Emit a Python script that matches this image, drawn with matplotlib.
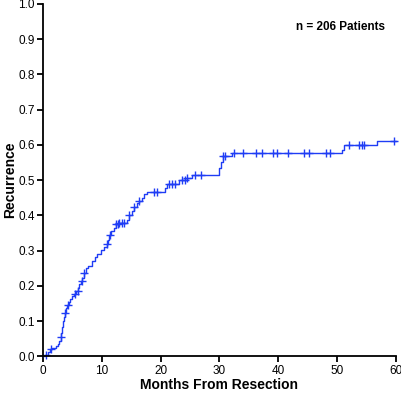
import numpy as np
import matplotlib
matplotlib.use("Agg")
import matplotlib.pyplot as plt

plt.rcParams['font.family'] = ['Liberation Sans', 'DejaVu Sans']

# step curve: month of each step and recurrence value after it
event_months = [0.0, 0.3, 0.8, 1.2, 1.6, 2.2, 2.6, 2.8, 3.0, 3.1, 3.25, 3.4, 3.55,
                3.7, 3.9, 4.1, 4.35, 4.6, 4.9, 5.2, 5.6, 6.0, 6.2, 6.4, 6.7, 7.0,
                7.3, 7.7, 8.4, 8.8, 9.2, 9.8, 10.3, 10.8, 11.0, 11.3, 11.6, 12.0,
                12.4, 12.8, 14.2, 14.7, 15.1, 15.4, 15.9, 16.3, 16.8, 17.2, 17.6,
                20.7, 21.1, 23.1, 24.4, 25.3, 30.0, 30.3, 30.6, 32.2, 50.8, 51.2,
                56.8, 60.0]
recurrence = [0.0, 0.005, 0.012, 0.02, 0.025, 0.03, 0.036, 0.045, 0.055, 0.068,
              0.085, 0.1, 0.113, 0.123, 0.138, 0.146, 0.155, 0.163, 0.172, 0.178,
              0.186, 0.195, 0.205, 0.214, 0.222, 0.238, 0.25, 0.257, 0.27, 0.283,
              0.292, 0.302, 0.31, 0.32, 0.33, 0.345, 0.355, 0.365, 0.375, 0.38,
              0.388, 0.4, 0.412, 0.424, 0.435, 0.442, 0.45, 0.46, 0.467, 0.478,
              0.488, 0.5, 0.506, 0.515, 0.536, 0.552, 0.569, 0.576, 0.586, 0.599,
              0.611, 0.611]

censor_months = [0.5, 1.4, 3.0, 3.7, 4.3, 5.5, 5.9, 6.6, 7.0, 10.9, 11.4, 12.4,
                 12.7, 13.0, 13.4, 13.8, 14.7, 15.4, 16.3, 18.9, 19.3, 21.5, 21.9,
                 22.4, 23.6, 24.1, 24.4, 25.9, 26.8, 30.6, 31.0, 32.5, 34.0, 36.2,
                 37.2, 39.1, 39.8, 41.7, 44.4, 45.3, 48.1, 48.8, 52.0, 53.8, 54.2,
                 54.5, 59.6]

xticks = [0, 10, 20, 30, 40, 50, 60]
yticks = [0.0, 0.1, 0.2, 0.3, 0.4, 0.5, 0.6, 0.7, 0.8, 0.9, 1.0]

blue = '#1f3df5'

fig = plt.figure(figsize=(4.02, 3.95), dpi=100)
ax = fig.add_axes([0.107, 0.0975, 0.878, 0.8925])

ax.step(event_months, recurrence, where='post', color=blue, lw=1.0, clip_on=False)

# censor marks sit on the curve
idx = np.searchsorted(event_months, censor_months, side='right') - 1
censor_vals = np.array(recurrence)[idx]
ax.plot(censor_months, censor_vals, '+', color=blue, ms=6, mew=1.0, clip_on=False)

ax.set_xlim(0, 60)
ax.set_ylim(0, 1.0)
ax.set_xticks(xticks)
ax.set_yticks(yticks)
ax.set_yticklabels([f"{v:.1f}" for v in yticks])
ax.tick_params(labelsize=8.5, width=1.3, length=4, direction='out', pad=2)
for s in ['top', 'right']:
    ax.spines[s].set_visible(False)
for s in ['left', 'bottom']:
    ax.spines[s].set_linewidth(1.3)

ax.set_xlabel("Months From Resection", fontsize=10, fontweight='bold')
ax.xaxis.set_label_coords(0.5, -0.06)
ax.set_ylabel("Recurrence", fontsize=10, fontweight='bold')
ax.yaxis.set_label_coords(-0.072, 0.5)
ax.text(50.5, 0.935, "n = 206 Patients", fontsize=8.5, fontweight='bold',
        ha='center', va='center')

fig.savefig("out.png", dpi=100)
